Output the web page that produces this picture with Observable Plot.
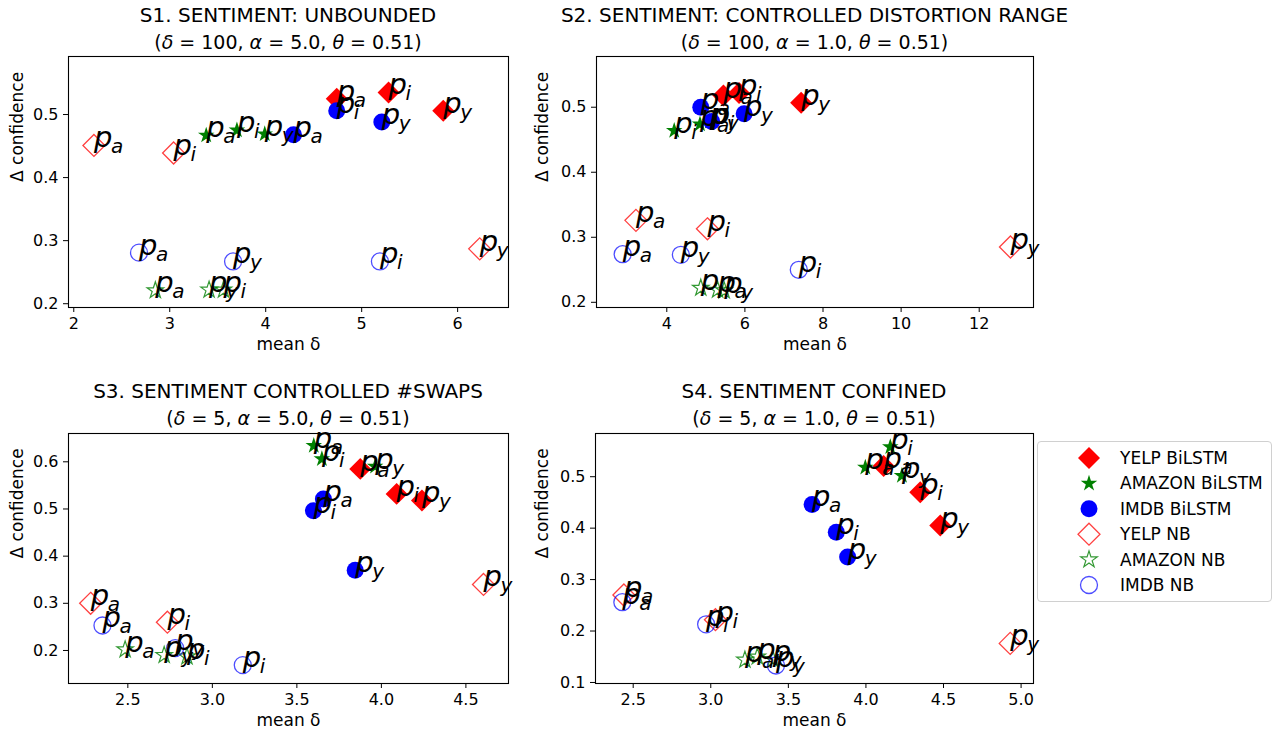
<!DOCTYPE html>
<html><head><meta charset="utf-8">
<script src="https://cdn.jsdelivr.net/npm/d3@7"></script>
<script src="https://cdn.jsdelivr.net/npm/@observablehq/plot@0.6"></script>
<style>
body{margin:0;background:#fff;font-family:"DejaVu Sans",sans-serif;}
#fig{position:relative;width:1272px;height:736px;overflow:hidden;background:#fff;}
.panel{position:absolute;}
.title{position:absolute;font-size:19px;white-space:nowrap;transform:translate(-50%,-50%);color:#000;line-height:1;}
.title.main{font-size:20px;}
.legend{position:absolute;left:1037px;top:441px;width:233px;height:159px;border:1px solid #d0d0d0;border-radius:4px;background:#fff;}
</style></head><body><div id="fig"></div>
<script>
// ---- data ----
const series = ["YELP BiLSTM","AMAZON BiLSTM","IMDB BiLSTM","YELP NB","AMAZON NB","IMDB NB"];
const subs = ["a","i","y"];

// S1 (per series: p_a, p_i, p_y)
const s1x = [[4.74,5.28,5.85],[3.38,3.70,3.99],[4.29,4.74,5.21],[2.21,3.04,6.23],[2.85,3.56,3.41],[2.68,5.19,3.66]];
const s1y = [[0.525,0.535,0.506],[0.467,0.475,0.469],[0.468,0.506,0.488],[0.451,0.439,0.287],[0.221,0.222,0.222],[0.281,0.267,0.267]];
// S2
const s2x = [[5.45,5.85,7.44],[4.85,4.19,5.10],[4.87,5.15,5.98],[3.21,5.04,12.8],[5.30,4.87,5.47],[2.87,7.38,4.36]];
const s2y = [[0.518,0.522,0.507],[0.474,0.464,0.478],[0.500,0.478,0.490],[0.326,0.313,0.285],[0.219,0.222,0.218],[0.274,0.250,0.273]];
// S3
const s3x = [[3.875,4.09,4.24],[3.60,3.648,3.963],[3.657,3.598,3.845],[2.28,2.734,4.604],[2.484,2.85,2.715],[2.35,3.18,2.78]];
const s3y = [[0.585,0.532,0.518],[0.634,0.606,0.590],[0.521,0.496,0.370],[0.300,0.260,0.340],[0.202,0.187,0.190],[0.253,0.169,0.205]];
// S4
const s4x = [[4.114,4.35,4.479],[3.996,4.157,4.232],[3.653,3.809,3.882],[2.44,3.03,4.93],[3.22,3.30,3.40],[2.43,2.97,3.42]];
const s4y = [[0.521,0.470,0.405],[0.518,0.558,0.502],[0.446,0.392,0.344],[0.270,0.222,0.176],[0.144,0.150,0.145],[0.256,0.213,0.133]];

const titles = ["S1. SENTIMENT: UNBOUNDED","S2. SENTIMENT: CONTROLLED DISTORTION RANGE","S3. SENTIMENT CONTROLLED #SWAPS","S4. SENTIMENT CONFINED"];
const deltas = ["100","100","5","5"];
const alphas = ["5.0","1.0","5.0","1.0"];
const thetas = ["0.51","0.51","0.51","0.51"];

const xTicks = [[2,3,4,5,6],[4,6,8,10,12],[2.5,3.0,3.5,4.0,4.5],[2.5,3.0,3.5,4.0,4.5,5.0]];
const yTicks = [[0.2,0.3,0.4,0.5],[0.2,0.3,0.4,0.5],[0.2,0.3,0.4,0.5,0.6],[0.1,0.2,0.3,0.4,0.5]];
const xDomains = [[1.945,6.53],[2.20,13.39],[2.149,4.752],[2.257,5.08]];
const yDomains = [[0.194,0.592],[0.192,0.578],[0.130,0.660],[0.098,0.584]];
const xLabel = "mean δ";
const yLabel = "Δ confidence";

// ---- styles ----
const styles = {
  "YELP BiLSTM":   {symbol:"diamond2", fill:"#ff0000", stroke:"none", r:9.9},
  "AMAZON BiLSTM": {symbol:"star", fill:"#008000", stroke:"none", r:5.2},
  "IMDB BiLSTM":   {symbol:"circle", fill:"#0000ff", stroke:"none", r:8.5},
  "YELP NB":       {symbol:"diamond2", fill:"none", stroke:"#ff0000", strokeOpacity:0.75, strokeWidth:1.3, r:9.9},
  "AMAZON NB":     {symbol:"star", fill:"none", stroke:"#008000", strokeOpacity:0.8, strokeWidth:1.2, r:5.2},
  "IMDB NB":       {symbol:"circle", fill:"none", stroke:"#0000ff", strokeOpacity:0.7, strokeWidth:1.3, r:8.5}
};

const layout = [
  {left:0,   top:0,   width:530, height:360, mL:68, mR:22, mT:56, mB:53},
  {left:530, top:0,   width:530, height:360, mL:66, mR:27, mT:56, mB:53},
  {left:0,   top:370, width:530, height:366, mL:68, mR:22, mT:63, mB:53},
  {left:530, top:370, width:530, height:366, mL:65, mR:27, mT:63, mB:53}
];

const fig = document.getElementById("fig");
const allX = [s1x,s2x,s3x,s4x], allY = [s1y,s2y,s3y,s4y];

allX.forEach((xs, pi) => {
  const ys = allY[pi];
  const L = layout[pi];
  const data = [];
  series.forEach((s, si) => subs.forEach((sub, k) => data.push({series:s, sub, x:xs[si][k], y:ys[si][k]})));
  const fmt = pi >= 2 ? d3.format(".1f") : (d => String(d));
  const yfmt = d3.format(".1f");
  const dotMarks = series.map(s => Plot.dot(data.filter(d => d.series === s), {x:"x", y:"y", ...styles[s]}));
  const chart = Plot.plot({
    width: L.width, height: L.height,
    marginLeft: L.mL, marginRight: L.mR, marginTop: L.mT, marginBottom: L.mB,
    style: {fontFamily:"DejaVu Sans", fontSize:"16px", color:"#000", background:"transparent", overflow:"visible"},
    x: {domain: xDomains[pi], label: null},
    y: {domain: yDomains[pi], label: null},
    marks: [
      ...dotMarks,
      Plot.text(data, {x:"x", y:"y", text: () => "p", textAnchor:"start", lineAnchor:"bottom", fontSize:29, fontStyle:"italic", fontFamily:"DejaVu Sans", fill:"#000", dy:2}),
      Plot.text(data, {x:"x", y:"y", text:"sub", textAnchor:"start", lineAnchor:"bottom", fontSize:20, fontStyle:"italic", fontFamily:"DejaVu Sans", fill:"#000", dx:17, dy:8}),
      Plot.frame({stroke:"#000", strokeWidth:1.1}),
      Plot.axisX({ticks: xTicks[pi], tickFormat: fmt, tickSize:5, tickPadding:5, fontSize:16, label:null}),
      Plot.axisY({ticks: yTicks[pi], tickFormat: yfmt, tickSize:5, tickPadding:5, fontSize:16, label:null}),
      Plot.text([xLabel], {text: d => d, frameAnchor:"bottom", dy:42, fontSize:17, fill:"#000"}),
      Plot.text([yLabel], {text: d => d, frameAnchor:"left", dx:-51 - (pi % 2 === 1 ? 3 : 0) + (pi === 3 ? 1 : 0), rotate:-90, fontSize:17, fill:"#000"})
    ]
  });
  const wrap = document.createElement("div");
  wrap.className = "panel";
  wrap.style.left = L.left + "px";
  wrap.style.top = L.top + "px";
  wrap.appendChild(chart);
  fig.appendChild(wrap);

  const cx = L.left + L.mL + (L.width - L.mL - L.mR) / 2;
  const t1 = document.createElement("div");
  t1.className = "title main";
  t1.style.left = cx + "px";
  t1.style.top = (L.top + (pi < 2 ? 15 : 21)) + "px";
  t1.textContent = titles[pi];
  fig.appendChild(t1);
  const t2 = document.createElement("div");
  t2.className = "title";
  t2.style.left = cx + "px";
  t2.style.top = (L.top + (pi < 2 ? 42 : 48)) + "px";
  t2.innerHTML = `(<i>δ</i> = ${deltas[pi]}, <i>α</i> = ${alphas[pi]}, <i>θ</i> = ${thetas[pi]})`;
  fig.appendChild(t2);
});

// ---- legend ----
const leg = document.createElement("div");
leg.className = "legend";
fig.appendChild(leg);
const lsvg = d3.select(leg).append("svg").attr("width", 233).attr("height", 159)
  .style("font-family", "DejaVu Sans").style("font-size", "17px");
series.forEach((s, i) => {
  const st = styles[s];
  const cy = 16 + i * 25.4;
  const typeMap = {diamond2: d3.symbolDiamond2, star: d3.symbolStar, circle: d3.symbolCircle};
  lsvg.append("path")
    .attr("d", d3.symbol(typeMap[st.symbol], st.r * st.r * Math.PI)())
    .attr("transform", `translate(51,${cy})`)
    .attr("fill", st.fill).attr("stroke", st.stroke)
    .attr("stroke-opacity", st.strokeOpacity || 1)
    .attr("stroke-width", st.strokeWidth || 0);
  lsvg.append("text").attr("x", 82).attr("y", cy).attr("dy", "0.35em").attr("fill", "#000").text(s);
});
</script></body></html>
